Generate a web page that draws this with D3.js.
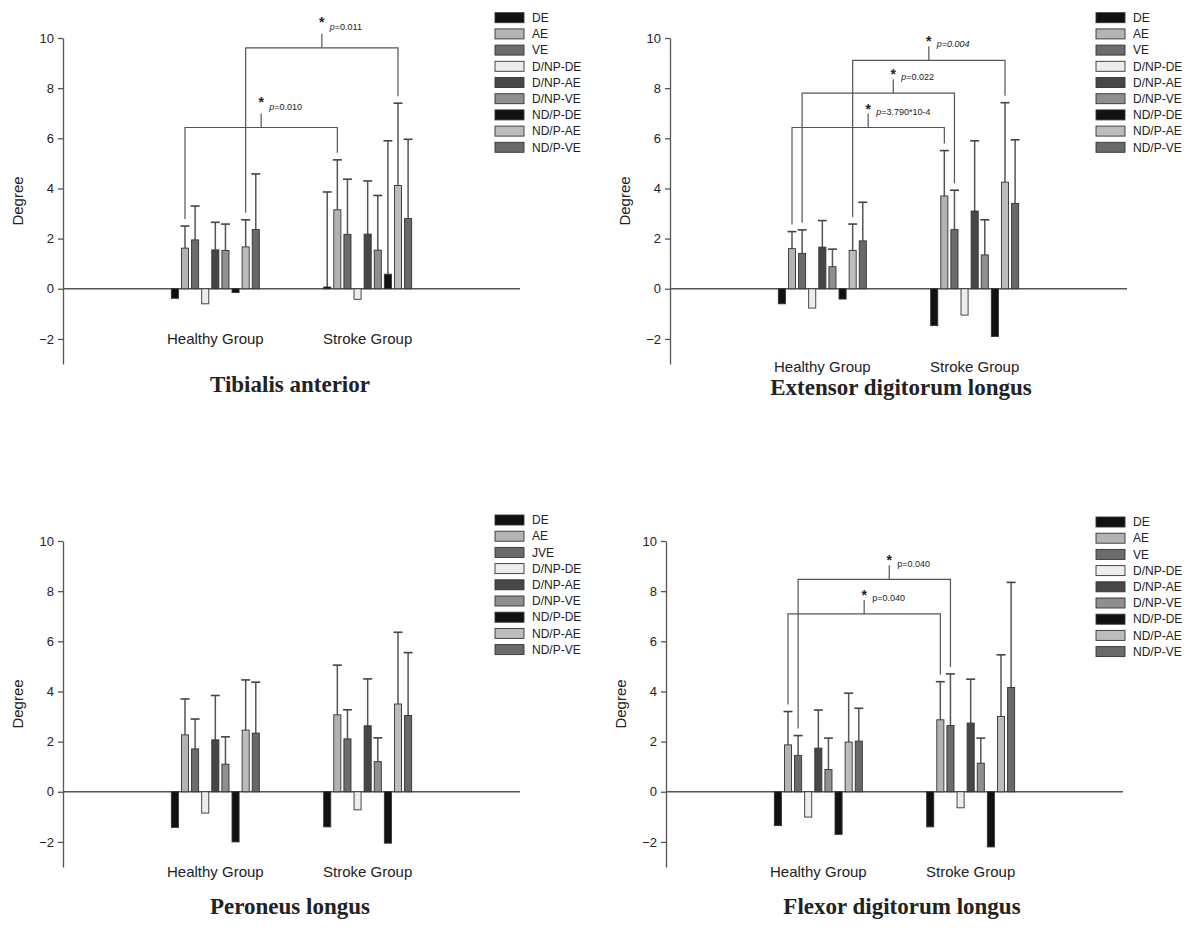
<!DOCTYPE html>
<html>
<head>
<meta charset="utf-8">
<script src="https://cdn.jsdelivr.net/npm/d3@7"></script>
<style>
  body { margin: 0; background: #fff; }
  text { font-family: "Liberation Sans", Arial, sans-serif; fill: #222; }
</style>
</head>
<body>
<svg id="chart" width="1198" height="932"></svg>
<script>
const groups = ["Healthy Group", "Stroke Group"];
const seriesNames = ["DE", "AE", "VE", "D/NP-DE", "D/NP-AE", "D/NP-VE", "ND/P-DE", "ND/P-AE", "ND/P-VE"];
const peroneusLegend = ["DE", "AE", "JVE", "D/NP-DE", "D/NP-AE", "D/NP-VE", "ND/P-DE", "ND/P-AE", "ND/P-VE"];
const yTicks = [-2, 0, 2, 4, 6, 8, 10];

// Tibialis anterior: means per group, and top of the error bar (null = none drawn)
const taMeans = [[-0.38, 1.62, 1.95, -0.6, 1.55, 1.53, -0.15, 1.67, 2.36],
                 [0.07, 3.15, 2.17, -0.42, 2.18, 1.54, 0.58, 4.12, 2.8]];
const taErrTop = [[null, 2.5, 3.3, null, 2.65, 2.58, null, 2.75, 4.58],
                  [3.86, 5.14, 4.37, null, 4.3, 3.72, 5.9, 7.4, 5.96]];
const taTests = [{ a: [0, 1], b: [1, 1], level: 6.43, label: "0.010", italic: "p" },
                 { a: [0, 7], b: [1, 7], level: 9.61, label: "0.011", italic: "p" }];

// Extensor digitorum longus
const edlMeans = [[-0.6, 1.6, 1.41, -0.77, 1.66, 0.88, -0.41, 1.53, 1.91],
                  [-1.47, 3.7, 2.36, -1.05, 3.1, 1.35, -1.9, 4.25, 3.4]];
const edlErrTop = [[null, 2.28, 2.35, null, 2.72, 1.58, null, 2.58, 3.45],
                   [null, 5.51, 3.93, null, 5.9, 2.75, null, 7.42, 5.94]];
const edlTests = [{ a: [0, 1], b: [1, 1], level: 6.43, label: "3.790*10-4", italic: "p" },
                  { a: [0, 2], b: [1, 2], level: 7.8, label: "0.022", italic: "p", shift: 15 },
                  { a: [0, 7], b: [1, 7], level: 9.11, label: "0.004", italic: "all" }];

// Peroneus longus
const plMeans = [[-1.42, 2.27, 1.71, -0.85, 2.07, 1.1, -2.0, 2.46, 2.34],
                 [-1.4, 3.07, 2.11, -0.72, 2.63, 1.2, -2.05, 3.5, 3.04]];
const plErrTop = [[null, 3.7, 2.9, null, 3.84, 2.19, null, 4.46, 4.37],
                  [null, 5.05, 3.27, null, 4.5, 2.15, null, 6.36, 5.55]];

// Flexor digitorum longus
const fdlMeans = [[-1.35, 1.87, 1.45, -1.01, 1.74, 0.89, -1.7, 1.98, 2.02],
                  [-1.4, 2.87, 2.64, -0.64, 2.74, 1.14, -2.2, 3.0, 4.16]];
const fdlErrTop = [[null, 3.2, 2.24, null, 3.26, 2.14, null, 3.93, 3.33],
                   [null, 4.39, 4.7, null, 4.49, 2.14, null, 5.46, 8.35]];
const fdlTests = [{ a: [0, 1], b: [1, 1], level: 7.09, label: "0.040", italic: "none" },
                  { a: [0, 2], b: [1, 2], level: 8.47, label: "0.040", italic: "none", shift: 15 }];

const fills = ["#111", "#b3b3b3", "#6c6c6c", "#ededed", "#474747", "#8f8f8f", "#111", "#bcbcbc", "#696969"];

const svg = d3.select("#chart");

function drawPanel(cfg) {
  const g = svg.append("g");
  const y = d3.scaleLinear().domain([-3, 10]).range([cfg.top + 326, cfg.top]);
  const x = d3.scalePoint().domain(groups).range([cfg.left, cfg.right]).padding(1);
  const xs = d3.scaleBand().domain(seriesNames).range([-45.5, 45.5])
    .paddingInner(0.3).paddingOuter(0.15);
  const bw = xs.bandwidth();
  const barX = (gi, si) => x(groups[gi]) + xs(seriesNames[si]);

  // y axis
  const ax = g.append("g")
    .attr("transform", `translate(${cfg.left},0)`)
    .call(d3.axisLeft(y).tickValues(yTicks).tickSize(5).tickSizeOuter(0).tickPadding(4));
  ax.select(".domain").attr("stroke", "#555").attr("stroke-width", 1.3);
  ax.selectAll(".tick line").attr("stroke", "#555").attr("stroke-width", 1.3);
  ax.selectAll(".tick text").style("font-size", "13px").attr("fill", "#222");

  g.append("text")
    .attr("transform", `translate(${cfg.left - 45},${(y(10) + y(-3)) / 2}) rotate(-90)`)
    .attr("text-anchor", "middle")
    .attr("dy", "0.35em")
    .style("font-size", "15px")
    .text("Degree");

  // zero line
  g.append("line")
    .attr("x1", cfg.left).attr("x2", cfg.right)
    .attr("y1", y(0)).attr("y2", y(0))
    .attr("stroke", "#555").attr("stroke-width", 1.3);

  // error bars then bars
  cfg.means.forEach((row, gi) => {
    row.forEach((v, si) => {
      const top = cfg.errTop[gi][si];
      const cx = barX(gi, si) + bw / 2;
      if (top != null) {
        g.append("line")
          .attr("x1", cx).attr("x2", cx)
          .attr("y1", y(Math.max(v, 0))).attr("y2", y(top))
          .attr("stroke", "#555").attr("stroke-width", 1.5);
        g.append("line")
          .attr("x1", cx - 4.5).attr("x2", cx + 4.5)
          .attr("y1", y(top)).attr("y2", y(top))
          .attr("stroke", "#444").attr("stroke-width", 1.6);
      }
      g.append("rect")
        .attr("x", barX(gi, si))
        .attr("y", y(Math.max(v, 0)))
        .attr("width", bw)
        .attr("height", Math.abs(y(v) - y(0)))
        .attr("fill", fills[si])
        .attr("stroke", "#333")
        .attr("stroke-width", 0.9);
    });
  });

  // group labels
  groups.forEach(gr => {
    g.append("text")
      .attr("x", x(gr)).attr("y", cfg.labelY)
      .attr("text-anchor", "middle")
      .style("font-size", "15px")
      .text(gr);
  });

  // significance brackets
  (cfg.tests || []).forEach(t => {
    const xa = barX(t.a[0], t.a[1]) + bw / 2;
    const xb = barX(t.b[0], t.b[1]) + bw / 2;
    const ya = y(cfg.errTop[t.a[0]][t.a[1]]) - 7;
    const yb = y(cfg.errTop[t.b[0]][t.b[1]]) - 7;
    const yl = y(t.level);
    g.append("path")
      .attr("d", `M${xa},${ya}V${yl}H${xb}V${yb}`)
      .attr("fill", "none").attr("stroke", "#555").attr("stroke-width", 1.2);
    const xm = (xa + xb) / 2 + (t.shift || 0);
    const tickTop = yl - 14;
    g.append("line")
      .attr("x1", xm).attr("x2", xm).attr("y1", yl).attr("y2", tickTop)
      .attr("stroke", "#555").attr("stroke-width", 1.2);
    g.append("text")
      .attr("x", xm).attr("y", tickTop - cfg.starGap + 8)
      .attr("text-anchor", "middle")
      .style("font-size", "14px").style("font-weight", "bold")
      .text("*");
    const lbl = g.append("text")
      .attr("x", xm + 8).attr("y", tickTop - cfg.textGap)
      .attr("dy", "0.35em")
      .style("font-size", "9px");
    lbl.append("tspan").style("font-style", t.italic === "none" ? "normal" : "italic").text("p");
    lbl.append("tspan").style("font-style", t.italic === "all" ? "italic" : "normal").text("=" + t.label);
  });

  // legend
  cfg.legend.forEach((name, i) => {
    const ly = cfg.legendY + i * 16.2;
    g.append("rect")
      .attr("x", cfg.legendX).attr("y", ly - 5)
      .attr("width", 29).attr("height", 10)
      .attr("fill", fills[i]).attr("stroke", "#333").attr("stroke-width", 0.9);
    g.append("text")
      .attr("x", cfg.legendX + 37).attr("y", ly)
      .attr("dy", "0.35em")
      .style("font-size", "12px")
      .text(name);
  });

  // title
  g.append("text")
    .attr("x", cfg.titleX).attr("y", cfg.titleY)
    .attr("text-anchor", "middle")
    .style("font-family", "'Liberation Serif', 'Times New Roman', serif")
    .style("font-weight", "bold")
    .style("font-size", "23px")
    .text(cfg.title);
}

drawPanel({ left: 63, right: 520, top: 38, means: taMeans, errTop: taErrTop, tests: taTests,
  labelY: 344, legend: seriesNames, legendX: 495, legendY: 17.7, starGap: 15, textGap: 7,
  title: "Tibialis anterior", titleX: 290, titleY: 392 });
drawPanel({ left: 670, right: 1127, top: 38, means: edlMeans, errTop: edlErrTop, tests: edlTests,
  labelY: 372, legend: seriesNames, legendX: 1096, legendY: 17.7, starGap: 8, textGap: 2,
  title: "Extensor digitorum longus", titleX: 901, titleY: 395 });
drawPanel({ left: 63, right: 520, top: 541, means: plMeans, errTop: plErrTop, tests: [],
  labelY: 877, legend: peroneusLegend, legendX: 495, legendY: 520, starGap: 8, textGap: 2,
  title: "Peroneus longus", titleX: 290, titleY: 914 });
drawPanel({ left: 666, right: 1123, top: 541, means: fdlMeans, errTop: fdlErrTop, tests: fdlTests,
  labelY: 877, legend: seriesNames, legendX: 1096, legendY: 522, starGap: 8, textGap: 2,
  title: "Flexor digitorum longus", titleX: 902, titleY: 914 });
</script>
</body>
</html>
